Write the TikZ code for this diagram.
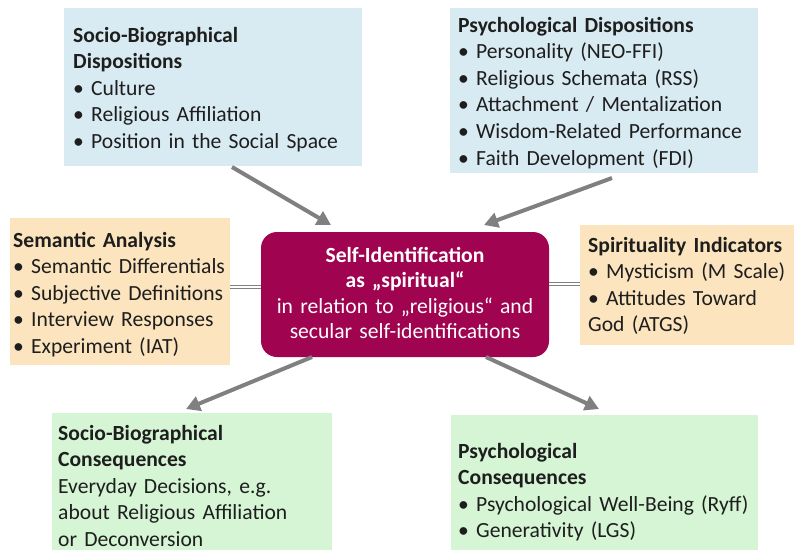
\documentclass[tikz,border=0pt]{standalone}
\usepackage{fontspec}
\setmainfont{Carlito}
\usetikzlibrary{arrows.meta}
\definecolor{boxblue}{RGB}{217,235,242}
\definecolor{boxorange}{RGB}{252,228,190}
\definecolor{boxgreen}{RGB}{213,245,213}
\definecolor{coremag}{RGB}{160,4,80}
\definecolor{arrowgray}{RGB}{128,128,128}
\definecolor{textdark}{RGB}{30,30,30}
\tikzset{
  panel/.style={rectangle, draw=none, inner sep=0pt},
  bluepanel/.style={panel, fill=boxblue},
  orangepanel/.style={panel, fill=boxorange},
  greenpanel/.style={panel, fill=boxgreen},
  corebox/.style={rectangle, rounded corners=16pt, fill=coremag, draw=none, inner sep=0pt},
  paneltext/.style={anchor=base west, inner sep=0pt, align=left, text=textdark,
    font=\fontsize{21.6}{26.6}\selectfont},
  coretext/.style={anchor=base, inner sep=0pt, align=center, text=white,
    text width=288pt, font=\fontsize{21.6}{25.5}\selectfont},
  flow/.style={draw=arrowgray, line width=4pt,
    -{Triangle[length=14pt,width=15pt]}},
  link/.style={draw=arrowgray, line width=1.4pt, double=white, double distance=1.6pt},
}
\begin{document}
\begin{tikzpicture}[x=1pt,y=-1pt]
\useasboundingbox (0,0) rectangle (794,550);

% panels
\node[bluepanel, minimum width=298pt, minimum height=158pt] (sbd) at (213,87) {};
\node[bluepanel, minimum width=308pt, minimum height=165pt] (pd) at (604,90.5) {};
\node[orangepanel, minimum width=220pt, minimum height=147pt] (sa) at (120,291.5) {};
\node[orangepanel, minimum width=214pt, minimum height=120pt] (si) at (687,285) {};
\node[greenpanel, minimum width=280pt, minimum height=137pt] (sbc) at (192,481.5) {};
\node[greenpanel, minimum width=307pt, minimum height=135pt] (pc) at (604.5,482.5) {};
\node[corebox, minimum width=288pt, minimum height=125pt] (core) at (405,294.5) {};

% panel texts
\node[paneltext, text width=285pt] (sbdt) at (73,42)
  {\textbf{Socio-Biographical}\\\textbf{Dispositions}\\• Culture\\• Religious Affiliation\\• Position in the Social Space};
\node[paneltext, text width=300pt] (pdt) at (458,32)
  {\textbf{Psychological Dispositions}\\• Personality (NEO-FFI)\\• Religious Schemata (RSS)\\• Attachment / Mentalization\\• Wisdom-Related Performance\\• Faith Development (FDI)};
\node[paneltext, text width=220pt] (sat) at (13,247)
  {\textbf{Semantic Analysis}\\• Semantic Differentials\\• Subjective Definitions\\• Interview Responses\\• Experiment (IAT)};
\node[paneltext, text width=206pt] (sit) at (588,252)
  {\textbf{Spirituality Indicators}\\• Mysticism (M Scale)\\• Attitudes Toward\\God (ATGS)};
\node[paneltext, text width=272pt] (sbct) at (58,440)
  {\textbf{Socio-Biographical}\\\textbf{Consequences}\\Everyday Decisions, e.g.\\about Religious Affiliation\\or Deconversion};
\node[paneltext, text width=296pt] (pct) at (458,458)
  {\textbf{Psychological}\\\textbf{Consequences}\\• Psychological Well-Being (Ryff)\\• Generativity (LGS)};
\node[coretext] (coret) at (405,262)
  {\textbf{Self-Identification}\\\textbf{as „spiritual“}\\in relation to „religious“ and\\secular self-identifications};

% arrow ends
\coordinate (a1s) at (232,167);
\coordinate (a1e) at (331,225);
\coordinate (a2s) at (612,178);
\coordinate (a2e) at (484,225);
\coordinate (a3s) at (312,357);
\coordinate (a3e) at (186,409);
\coordinate (a4s) at (486,357);
\coordinate (a4e) at (599,409);

\draw[flow] (a1s) -- (a1e);
\draw[flow] (a2s) -- (a2e);
\draw[flow] (a3s) -- (a3e);
\draw[flow] (a4s) -- (a4e);

% side links
\draw[link] ([yshift=4.5pt]sa.east) -- ([yshift=4.5pt]sa.east -| core.west);
\draw[link] ([yshift=1pt]si.west) -- ([yshift=1pt]si.west -| core.east);
\end{tikzpicture}
\end{document}
